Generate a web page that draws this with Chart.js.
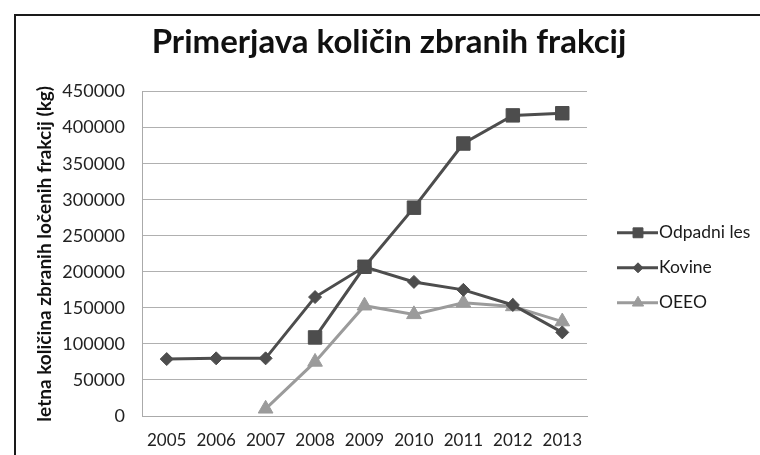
<!DOCTYPE html>
<html><head><meta charset="utf-8">
<script src="https://cdn.jsdelivr.net/npm/chart.js@4/dist/chart.umd.min.js"></script>
<style>html,body{margin:0;padding:0;background:#fff;overflow:hidden}canvas{display:block}</style>
</head><body>
<canvas id="c" width="760" height="455"></canvas>
<script>
const categories = ['2005','2006','2007','2008','2009','2010','2011','2012','2013'];
const seriesNames = ['Odpadni les','Kovine','OEEO'];
const odpadniLes = [null,null,null,109000,207000,289000,378000,417000,420000];
const kovine = [79000,80000,80000,165000,207000,186000,175000,154000,116000];
const oeeo = [null,null,10000,75000,153000,141000,157000,152000,131000];
const yMin = 0, yMax = 450000, yStep = 50000;
const titleText = 'Primerjava količin zbranih frakcij';
const yTitleText = 'letna količina zbranih ločenih frakcij (kg)';

const DARK = '#4d4d4d', LIGHT = '#9b9b9b';
const FONT = 'Lato, "Liberation Sans", sans-serif';

const framePlugin = {
  id: 'frame',
  beforeDraw(chart) {
    const ctx = chart.ctx;
    ctx.save();
    ctx.fillStyle = '#1a1a1a';
    ctx.fillRect(14, 14, 746, 2);
    ctx.fillRect(14, 14, 2, 441);
    ctx.restore();
  }
};

const legendPlugin = {
  id: 'sideLegend',
  afterDraw(chart) {
    const ctx = chart.ctx;
    const a = chart.chartArea;
    const mid = (a.top + a.bottom) / 2 + 14;
    chart.data.datasets.forEach((ds, i) => {
      const y = mid + (i - 1) * 35;
      const x0 = a.right + 30, x1 = a.right + 71, xm = a.right + 51;
      ctx.save();
      ctx.strokeStyle = ds.borderColor;
      ctx.lineWidth = ds.borderWidth;
      ctx.beginPath(); ctx.moveTo(x0, y); ctx.lineTo(x1, y); ctx.stroke();
      ctx.fillStyle = ds.pointBackgroundColor;
      ctx.strokeStyle = ds.pointBorderColor;
      ctx.lineWidth = 1;
      Chart.helpers.drawPoint(ctx, {pointStyle: ds.pointStyle, radius: ds.legendRadius, rotation: 0, borderWidth: 1}, xm, y);
      ctx.fillStyle = '#1a1a1a';
      ctx.font = '17.5px ' + FONT;
      ctx.textBaseline = 'middle';
      ctx.textAlign = 'left';
      ctx.fillText(ds.label, x1 + 1, y);
      ctx.restore();
    });
  }
};

function mk(label, data, color, style, radius, legendRadius) {
  return {
    label, data, borderColor: color, backgroundColor: color,
    pointBackgroundColor: color, pointBorderColor: color,
    borderWidth: 3, pointStyle: style, pointRadius: radius, pointHoverRadius: radius,
    pointBorderWidth: 1, legendRadius, tension: 0, spanGaps: false
  };
}

new Chart(document.getElementById('c'), {
  type: 'line',
  data: {
    labels: categories,
    datasets: [
      mk(seriesNames[0], odpadniLes, DARK, 'rect', 9.5, 7),
      mk(seriesNames[1], kovine, DARK, 'rectRot', 6.5, 5),
      mk(seriesNames[2], oeeo, LIGHT, 'triangle', 8.5, 6.5)
    ]
  },
  options: {
    responsive: false,
    animation: false,
    devicePixelRatio: 1,
    layout: { padding: { left: 18, top: 0, right: 0, bottom: 0 } },
    plugins: {
      legend: { display: false },
      tooltip: { enabled: false },
      title: {
        display: true, text: titleText, color: '#111',
        font: { family: FONT, size: 33, weight: 'bold' },
        padding: { top: 23, bottom: 29 }
      }
    },
    scales: {
      x: {
        type: 'category', offset: true,
        grid: { display: false, drawTicks: false },
        border: { display: true, color: '#aaaaaa', width: 1 },
        ticks: { color: '#222', font: { family: FONT, size: 17 }, padding: 14, maxRotation: 0, autoSkip: false },
        afterFit(s) { s.height = 39; }
      },
      y: {
        position: 'left', min: yMin, max: yMax,
        grid: { color: '#b0b0b0', lineWidth: 1, drawTicks: false },
        border: { display: true, color: '#aaaaaa', width: 1 },
        ticks: { stepSize: yStep, color: '#222', font: { family: FONT, size: 18 }, padding: 17,
          callback: v => String(v) },
        title: { display: true, text: yTitleText, color: '#111',
          font: { family: FONT, size: 19, weight: 'bold' }, padding: { top: 15, bottom: 0 } },
        afterFit(s) { s.width = 124; }
      },
      spacer: {
        type: 'linear', position: 'right', display: true,
        grid: { display: false, drawTicks: false }, border: { display: false },
        ticks: { display: false },
        afterFit(s) { s.width = 173; }
      }
    }
  },
  plugins: [framePlugin, legendPlugin]
});
</script>
</body></html>
